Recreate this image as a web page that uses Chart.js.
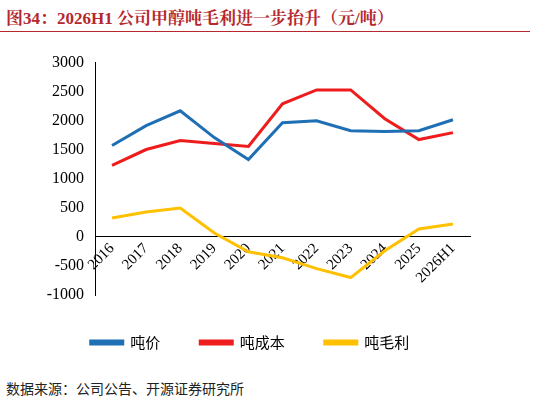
<!DOCTYPE html>
<html><head><meta charset="utf-8">
<script src="https://cdn.jsdelivr.net/npm/chart.js@4"></script>
<style>
body{margin:0;width:551px;height:405px;background:#fff;position:relative;overflow:hidden;font-family:"Liberation Serif","Noto Sans CJK SC",serif}
#title{position:absolute;left:6px;top:4px;font-size:17px;font-weight:bold;color:#B5282E;font-family:"Liberation Serif","Noto Serif CJK SC","Noto Sans CJK SC",serif}
#line{position:absolute;left:0;top:31px;width:530px;height:1px;background:#B5282E}
#src{position:absolute;left:6px;top:378px;font-size:14px;color:#222;font-family:"Noto Sans CJK SC",sans-serif}
#wrap{position:absolute;left:20px;top:50px;width:480px;height:310px}
</style></head><body>
<div id="title">图34：2026H1 公司甲醇吨毛利进一步抬升（元/吨）</div>
<div id="line"></div>
<div id="wrap"><canvas id="c" width="480" height="310"></canvas></div>
<div id="src">数据来源：公司公告、开源证券研究所</div>
<script>
const categories = ['2016','2017','2018','2019','2020','2021','2022','2023','2024','2025','2026H1'];
const price = [1573,1915,2170,1709,1333,1966,2000,1829,1812,1829,2017];
const cost = [1231,1504,1658,1607,1556,2290,2530,2530,2034,1675,1795];
const margin = [325,427,496,68,-256,-359,-547,-700,-239,137,222];

new Chart(document.getElementById('c'), {
    type: 'line',
    data: {
        labels: categories,
        datasets: [
            {label: '吨价', data: price, borderColor: '#1F6FB5', backgroundColor: '#1F6FB5'},
            {label: '吨成本', data: cost, borderColor: '#EE1C1C', backgroundColor: '#EE1C1C'},
            {label: '吨毛利', data: margin, borderColor: '#FFC000', backgroundColor: '#FFC000'}
        ]
    },
    options: {
        animation: false,
        responsive: false,
        maintainAspectRatio: false,
        elements: {line: {borderWidth: 3, tension: 0}, point: {radius: 0}},
        layout: {padding: {left: 10, right: 30, bottom: 0, top: 5}},
        scales: {
            x: {
                position: {y: 0},
                offset: true,
                grid: {display: false, drawTicks: false},
                border: {color: '#000'},
                ticks: {autoSkip: false, maxRotation: 45, minRotation: 45, color: '#000', font: {size: 15, family: 'Liberation Serif'}}
            },
            y: {
                min: -1000, max: 3000,
                afterFit: s => { s.width = 65; },
                grid: {display: false},
                border: {color: '#000'},
                ticks: {stepSize: 500, color: '#000', callback: v => String(v), font: {size: 16, family: 'Liberation Serif'}}
            }
        },
        plugins: {
            legend: {
                position: 'bottom',
                labels: {boxWidth: 32, boxHeight: 3, padding: 40, color: '#000', font: {size: 15, family: 'Noto Sans CJK SC'}}
            },
            tooltip: {enabled: false}
        }
    }
});
</script>
</body></html>
